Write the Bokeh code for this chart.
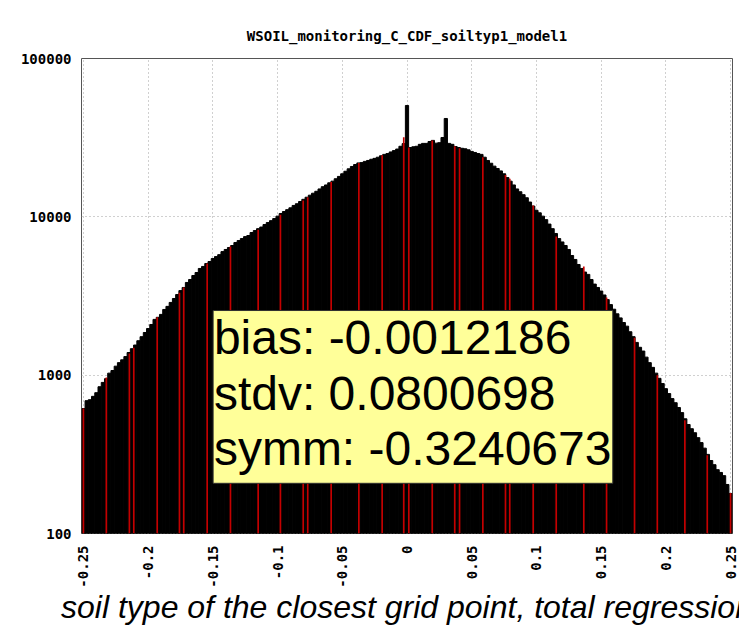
import numpy as np
from bokeh.plotting import figure
from bokeh.models import FixedTicker, BoxAnnotation, Label, ColumnDataSource
from bokeh.embed import file_html
from bokeh.resources import INLINE

# ---------------- data ----------------
title_text = "WSOIL_monitoring_C_CDF_soiltyp1_model1"
x_label_text = "soil type of the closest grid point, total regression"

bin_start = -0.25
bin_width = 0.0025
counts = [
    615, 690, 700, 735, 775, 845, 900, 950, 1030, 1070,
    1140, 1200, 1250, 1310, 1390, 1470, 1550, 1650, 1750, 1860,
    1970, 2090, 2250, 2320, 2420, 2600, 2720, 2880, 3050, 3230,
    3420, 3580, 3850, 4020, 4260, 4450, 4720, 4860, 5070, 5220,
    5450, 5610, 5770, 6030, 6220, 6400, 6590, 6880, 7080, 7290,
    7500, 7620, 7960, 8190, 8420, 8620, 8940, 9200, 9460, 9750,
    10100, 10500, 10800, 11100, 11400, 11800, 12100, 12500, 12900, 13300,
    13700, 14100, 14500, 15000, 15500, 15900, 16400, 16800, 17400, 18000,
    18700, 19400, 20100, 20800, 21400, 21900, 22000, 22400, 22700, 23100,
    23400, 23800, 24300, 24800, 25100, 25700, 26200, 26800, 27900, 29000,
    50500, 27400, 27700, 27900, 28700, 29100, 29100, 29900, 30400, 29200,
    29400, 31700, 41800, 29100, 28700, 27800, 27400, 27100, 26900, 26500,
    25900, 25500, 25100, 24800, 23800, 22700, 21800, 20900, 20200, 19500,
    18700, 17700, 16800, 15900, 15000, 14400, 13800, 13200, 12400, 11700,
    11000, 10600, 10100, 9600, 9000, 8420, 7850, 7290, 6940, 6590,
    6220, 5700, 5380, 5000, 4720, 4480, 4330, 4020, 3760, 3580,
    3400, 3210, 3000, 2790, 2610, 2440, 2300, 2150, 2040, 1880,
    1750, 1610, 1500, 1420, 1300, 1200, 1120, 1030, 955, 885,
    822, 765, 711, 670, 625, 580, 530, 488, 459, 433,
    403, 375, 346, 316, 289, 272, 253, 243, 232, 204,
    179,
]

red_x = [-0.2500, -0.2323, -0.2145, -0.2111, -0.1930, -0.1758, -0.1725, -0.1544,
         -0.1364, -0.1150, -0.0978, -0.0802, -0.0767, -0.0586, -0.0372, -0.0192,
         -0.0025, 0.0014, 0.0195, 0.0369, 0.0406, 0.0586, 0.0761, 0.0794,
         0.0975, 0.1153, 0.1366, 0.1542, 0.1758, 0.1934, 0.2147, 0.2320, 0.2500]
red_counts = [615, 965, 1370, 1490, 2320, 3320, 3580, 5070,
              6500, 8300, 10300, 12700, 13300, 16600, 21900, 24500,
              31800, 27400, 30400, 27900, 27100, 23800, 18400, 17400,
              11800, 7500, 4860, 3090, 1720, 1000, 520, 312, 180]

x_ticks = [-0.25, -0.2, -0.15, -0.1, -0.05, 0.0, 0.05, 0.1, 0.15, 0.2, 0.25]
x_tick_labels = ["-0.25", "-0.2", "-0.15", "-0.1", "-0.05", "0",
                 "0.05", "0.1", "0.15", "0.2", "0.25"]
y_ticks = [100, 1000, 10000, 100000]
y_tick_labels = ["100", "1000", "10000", "100000"]

stat_names = ["bias", "stdv", "symm"]
stat_values = ["-0.0012186", "0.0800698", "-0.3240673"]

# ---------------- figure ----------------
n = len(counts)
centers = bin_start + bin_width * np.arange(n)
src = ColumnDataSource(dict(left=centers - bin_width / 2,
                            right=centers + bin_width / 2,
                            top=counts, bottom=[1] * n))

p = figure(width=739, height=627,
           x_range=(-0.2515, 0.2515), y_range=(100, 100000),
           y_axis_type="log",
           output_backend="svg", toolbar_location=None,
           min_border_left=81, min_border_right=7,
           min_border_top=58, min_border_bottom=94)

p.background_fill_color = "white"
p.border_fill_color = "white"
p.outline_line_color = "#555555"
p.outline_line_width = 1

p.quad(left="left", right="right", top="top", bottom="bottom", source=src,
       fill_color="black", line_color="black", line_width=1)
p.vbar(x=red_x, top=red_counts, bottom=1, width=0.0013,
       fill_color="#c40000", line_color=None)

# title
p.title.text = title_text
p.title.align = "center"
p.title.text_font = "DejaVu Sans Mono"
p.title.text_font_style = "bold"
p.title.text_font_size = "14px"
p.title.text_color = "black"
p.title.standoff = 30

# axes
tick_font = "DejaVu Sans Mono"
p.xaxis.ticker = FixedTicker(ticks=x_ticks)
p.xaxis.major_label_overrides = {t: l for t, l in zip(x_ticks, x_tick_labels)}
p.xaxis.major_label_orientation = np.pi / 2
p.yaxis.ticker = FixedTicker(ticks=y_ticks)
p.yaxis.major_label_overrides = {t: l for t, l in zip(y_ticks, y_tick_labels)}
for ax in (p.xaxis, p.yaxis):
    ax.axis_line_color = None
    ax.major_tick_line_color = None
    ax.minor_tick_line_color = None
    ax.major_tick_out = 0
    ax.major_tick_in = 0
    ax.major_label_text_font = tick_font
    ax.major_label_text_font_style = "bold"
    ax.major_label_text_font_size = "14px"
    ax.major_label_text_color = "black"
p.xaxis.major_label_standoff = 12
p.yaxis.major_label_standoff = 10

p.xaxis.axis_label = x_label_text
p.xaxis.axis_label_text_font = "Liberation Sans"
p.xaxis.axis_label_text_font_style = "italic"
p.xaxis.axis_label_text_font_size = "32px"
p.xaxis.axis_label_text_color = "black"
p.xaxis.axis_label_standoff = -2

# grid
p.xgrid.ticker = FixedTicker(ticks=x_ticks)
p.ygrid.ticker = FixedTicker(ticks=y_ticks)
for g in (p.xgrid, p.ygrid):
    g.grid_line_color = "#a0a0a0"
    g.grid_line_dash = "1 3"
    g.grid_line_width = 1

# statistics box
p.add_layout(BoxAnnotation(left=-0.1498, right=0.1590, top=2560, bottom=207.5,
                           fill_color="#ffff99", fill_alpha=1.0,
                           line_color="#303030", line_width=1, line_alpha=1.0))
for name, val, yy in zip(stat_names, stat_values, [1735, 763, 343]):
    p.add_layout(Label(x=-0.1492, y=yy, text=f"{name}: {val}",
                       text_align="left", text_baseline="alphabetic",
                       text_font="Liberation Sans", text_font_size="48px",
                       text_color="black"))

open("out.html", "w").write(file_html(p, INLINE))
